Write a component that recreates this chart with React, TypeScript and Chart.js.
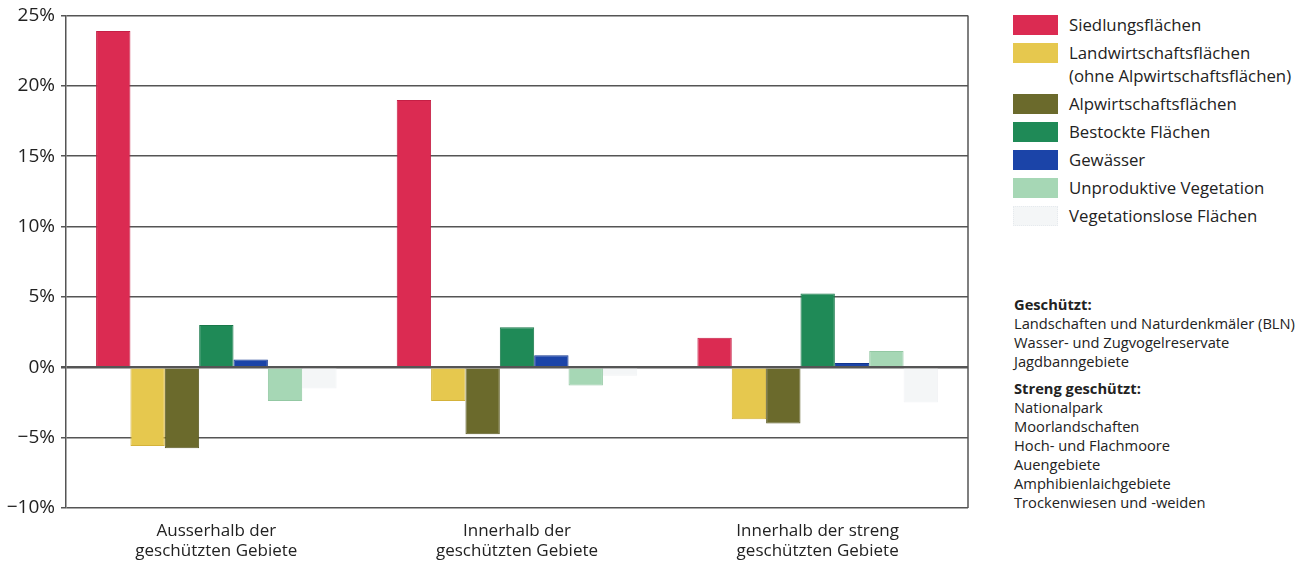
import React, { useEffect, useRef } from "react";
import { Chart, registerables } from "chart.js";

Chart.register(...registerables);

const categories: string[][] = [
  ["Ausserhalb der", "geschützten Gebiete"],
  ["Innerhalb der", "geschützten Gebiete"],
  ["Innerhalb der streng", "geschützten Gebiete"],
];

const seriesNames = [
  "Siedlungsflächen",
  "Landwirtschaftsflächen (ohne Alpwirtschaftsflächen)",
  "Alpwirtschaftsflächen",
  "Bestockte Flächen",
  "Gewässer",
  "Unproduktive Vegetation",
  "Vegetationslose Flächen",
];

const siedlung = [23.9, 19.0, 2.1];
const landwirtschaft = [-5.6, -2.4, -3.7];
const alpwirtschaft = [-5.75, -4.75, -4.0];
const bestockt = [3.0, 2.85, 5.25];
const gewaesser = [0.55, 0.85, 0.3];
const unproduktiv = [-2.4, -1.3, 1.15];
const vegetationslos = [-1.5, -0.6, -2.5];

const seriesColors = ["#db2b52", "#e6c84e", "#6b6a2c", "#1f8a57", "#1b44a8", "#a6d7b5", "#f4f6f7"];
const seriesBorders = ["#c51f45", "#d4b23a", "#5a5922", "#19784a", "#12358f", "#93c8a3", "#f1f3f5"];

const yTicks = [25, 20, 15, 10, 5, 0, -5, -10];

const legendLines: string[][] = [
  ["Siedlungsflächen"],
  ["Landwirtschaftsflächen", "(ohne Alpwirtschaftsflächen)"],
  ["Alpwirtschaftsflächen"],
  ["Bestockte Flächen"],
  ["Gewässer"],
  ["Unproduktive Vegetation"],
  ["Vegetationslose Flächen"],
];

const geschuetzt = ["Landschaften und Naturdenkmäler (BLN)", "Wasser- und Zugvogelreservate", "Jagdbanngebiete"];
const strengGeschuetzt = [
  "Nationalpark",
  "Moorlandschaften",
  "Hoch- und Flachmoore",
  "Auengebiete",
  "Amphibienlaichgebiete",
  "Trockenwiesen und -weiden",
];

const FONT = "'Open Sans', 'Noto Sans', sans-serif";

const frameRight = {
  id: "frameRight",
  afterDraw(chart: any) {
    const { ctx, chartArea } = chart;
    ctx.save();
    ctx.strokeStyle = "#555";
    ctx.lineWidth = 1.5;
    ctx.beginPath();
    ctx.moveTo(chartArea.right, chartArea.top);
    ctx.lineTo(chartArea.right, chartArea.bottom);
    ctx.stroke();
    ctx.restore();
  },
};

export default function App() {
  const ref = useRef<HTMLCanvasElement>(null);

  useEffect(() => {
    if (!ref.current) return;
    const allData = [siedlung, landwirtschaft, alpwirtschaft, bestockt, gewaesser, unproduktiv, vegetationslos];
    const chart = new Chart(ref.current, {
      type: "bar",
      data: {
        labels: categories,
        datasets: allData.map((d, i) => ({
          label: seriesNames[i],
          data: d,
          backgroundColor: seriesColors[i],
          borderColor: seriesBorders[i],
          borderWidth: 1,
          barPercentage: 1.0,
          categoryPercentage: 0.8,
        })),
      },
      options: {
        animation: false,
        responsive: false,
        devicePixelRatio: 1,
        layout: { padding: { top: 15, right: 12, left: 0, bottom: 0 } },
        plugins: {
          legend: { display: false },
          tooltip: { enabled: false },
        },
        scales: {
          x: {
            grid: { display: false, drawTicks: false },
            border: { display: false },
            ticks: {
              color: "#222",
              font: { family: FONT, size: 17 },
              padding: 13,
              maxRotation: 0,
            },
            afterFit(scale: any) {
              scale.height = 56;
            },
          },
          y: {
            min: -10,
            max: 25,
            afterBuildTicks(scale: any) {
              scale.ticks = yTicks.map((v) => ({ value: v }));
            },
            grid: {
              color: "#555",
              lineWidth: (ctx: any) => (ctx.tick && ctx.tick.value === 0 ? 2.5 : 1.5),
              tickLength: 5,
              drawTicks: true,
            },
            border: { display: true, color: "#555", width: 1.5 },
            ticks: {
              color: "#222",
              font: { family: FONT, size: 19, lineHeight: 1 },
              padding: 6,
              callback: (v: any) => (Number(v) < 0 ? "\u2212" + Math.abs(Number(v)) + "%" : v + "%"),
            },
            afterFit(scale: any) {
              scale.width = 66;
            },
          },
        },
      },
      plugins: [frameRight],
    });
    return () => chart.destroy();
  }, []);

  return (
    <div style={{ position: "fixed", left: 0, top: 0, width: 1311, height: 564, background: "#fff", fontFamily: FONT, color: "#222" }}>
      <canvas ref={ref} width={980} height={564} style={{ position: "absolute", left: 0, top: 0 }} />
      <div style={{ position: "absolute", left: 1013, top: 13 }}>
        {legendLines.map((lines, i) => (
          <div key={i} style={{ display: "flex", alignItems: "flex-start", marginBottom: 5 }}>
            <div
              style={{
                width: 45,
                height: 20,
                marginTop: 2,
                background: seriesColors[i],
                border: i === 6 ? "1px dotted #e6eaee" : "none",
                boxSizing: "border-box",
                flexShrink: 0,
              }}
            />
            <div style={{ marginLeft: 11, fontSize: 16.8, lineHeight: "23px", whiteSpace: "nowrap" }}>
              {lines.map((l, j) => (
                <div key={j}>{l}</div>
              ))}
            </div>
          </div>
        ))}
      </div>
      <div style={{ position: "absolute", left: 1014, top: 295, fontSize: 14.7, lineHeight: "19px", whiteSpace: "nowrap" }}>
        <div style={{ fontWeight: 700 }}>Geschützt:</div>
        {geschuetzt.map((l, i) => (
          <div key={i}>{l}</div>
        ))}
        <div style={{ fontWeight: 700, marginTop: 8 }}>Streng geschützt:</div>
        {strengGeschuetzt.map((l, i) => (
          <div key={i}>{l}</div>
        ))}
      </div>
    </div>
  );
}
